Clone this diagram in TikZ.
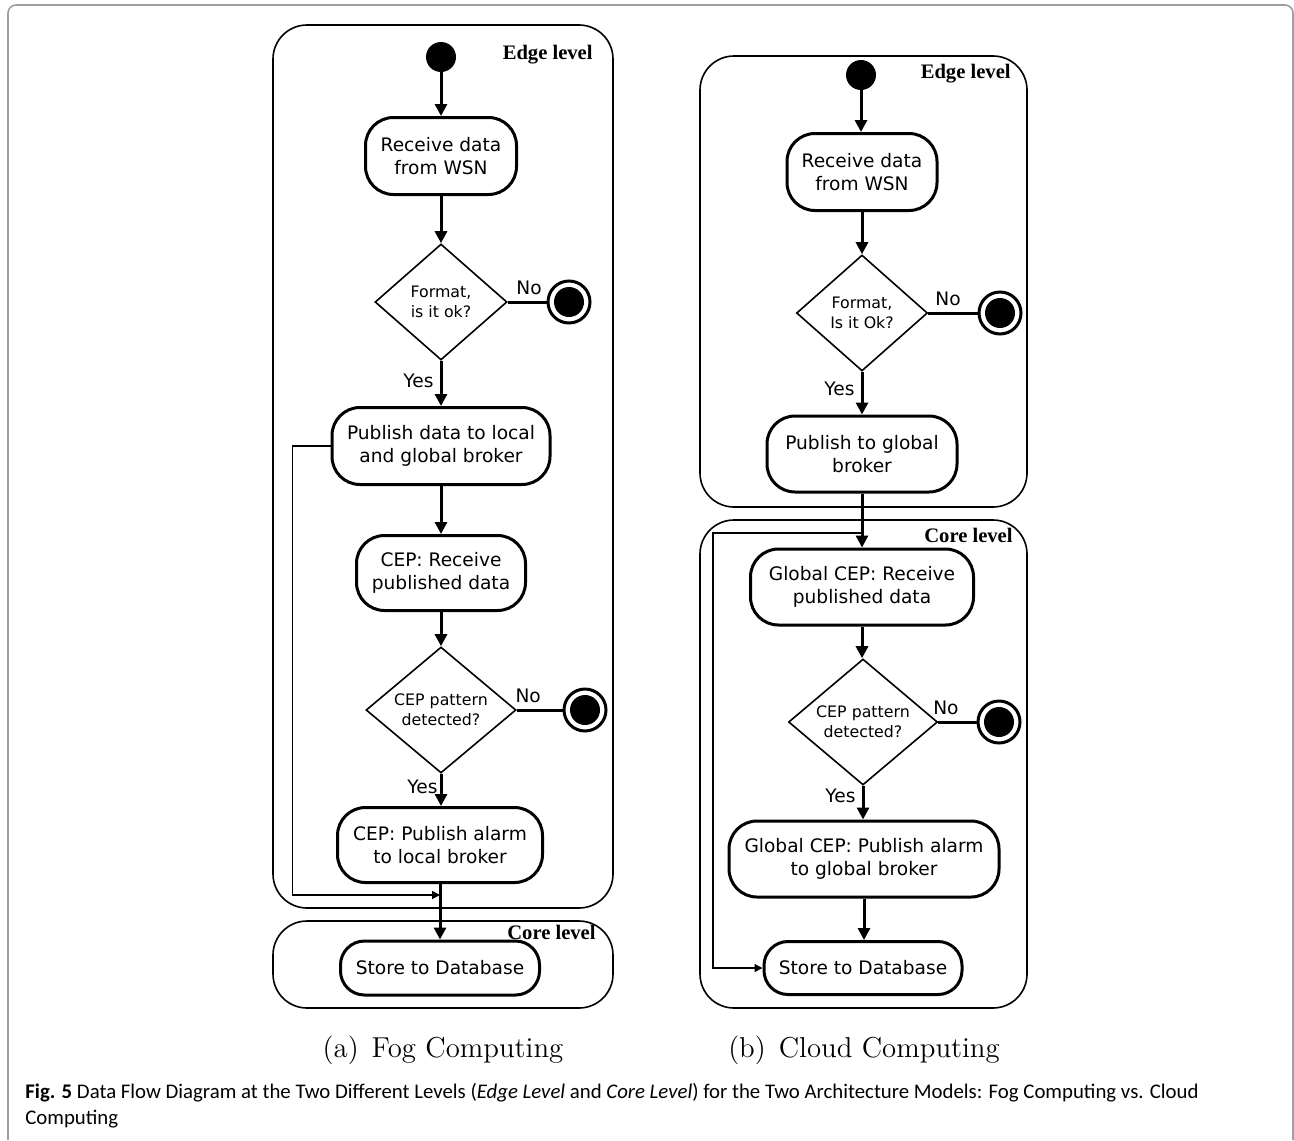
\documentclass[tikz,border=0pt]{standalone}
\usepackage{fontspec}
\usetikzlibrary{shapes.geometric,arrows.meta}
\newfontfamily\dvsans{DejaVu Sans}
\newfontfamily\tmsfont{Liberation Serif}
\newfontfamily\capfont{Carlito}
\begin{document}
\begin{tikzpicture}[x=0.5pt,y=-0.5pt,
  act/.style={draw, line width=1.5pt, rounded corners=14pt, inner sep=0pt, align=center,
    font=\dvsans\fontsize{9.3}{11.8}\selectfont},
  dec/.style={diamond, draw, line width=0.8pt, inner sep=0pt, align=center,
    font=\dvsans\fontsize{7.9}{10}\selectfont},
  startnode/.style={circle, fill=black, minimum size=15pt, inner sep=0pt},
  stopnode/.style={circle, draw, line width=1.5pt, minimum size=21pt, inner sep=0pt,
    path picture={\fill (path picture bounding box.center) circle (7.5pt);}},
  flow/.style={line width=1.5pt, -{Triangle[length=6pt,width=6pt]}},
  plainflow/.style={line width=1.5pt},
  backline/.style={line width=0.7pt, -{Triangle[length=4pt,width=4pt]}},
  levelbox/.style={draw, line width=0.8pt, rounded corners=17pt},
  lvl/.style={font=\tmsfont\bfseries\fontsize{10.3}{12}\selectfont, inner sep=0pt},
  lab/.style={font=\dvsans\fontsize{9.3}{11}\selectfont, inner sep=3pt},
  subcap/.style={font=\fontsize{14.4}{17}\selectfont}
]
\useasboundingbox (0,0) rectangle (1294,1140);

% page frame
\draw[gray!75, line width=0.8pt, rounded corners=4pt] (8,1140) -- (8,5) -- (1293,5) -- (1293,1140);

% ---------------- (a) Fog Computing ----------------
\draw[levelbox] (273,25) rectangle (613,908);
\draw[levelbox] (273,921) rectangle (613,1008);
\node[lvl, anchor=east] (la1) at (593,55) {Edge level};
\node[lvl, anchor=east] (la2) at (596,932) {Core level};

\node[startnode] (s1) at (441,57) {};
\node[act, minimum width=75.5pt, minimum height=38.5pt] (a1) at (441,156) {Receive data\\from WSN};
\node[dec, minimum width=66pt, minimum height=58pt] (d1) at (441,302) {Format,\\is it ok?};
\node[stopnode] (e1) at (569,302) {};
\node[act, minimum width=109pt, minimum height=38.5pt] (a2) at (441,446) {Publish data to local\\and global broker};
\node[act, minimum width=84.5pt, minimum height=37.5pt] (a3) at (441,573) {CEP: Receive\\published data};
\node[dec, minimum width=75pt, minimum height=63pt] (d2) at (441,710) {CEP pattern\\detected?};
\node[stopnode] (e2) at (585,710) {};
\node[act, minimum width=102.5pt, minimum height=37.5pt] (a4) at (440,845) {CEP: Publish alarm\\to local broker};
\node[act, rounded corners=12pt, minimum width=99.5pt, minimum height=27pt] (a5) at (440,968) {Store to Database};
\coordinate (j1) at (440,895);

\draw[flow] (s1) -- (a1);
\draw[flow] (a1) -- (d1);
\draw[plainflow] (d1) -- node[lab, above, pos=0.55] {No} (e1);
\draw[flow] (d1) -- node[lab, left, pos=0.45] {Yes} (a2);
\draw[flow] (a2) -- (a3);
\draw[flow] (a3) -- (d2);
\draw[plainflow] (d2) -- node[lab, above, pos=0.25] {No} (e2);
\draw[flow] (d2.south) -- node[lab, left, pos=0.4, inner sep=1pt] {Yes} (d2.south |- a4.north);
\draw[flow] (a4) -- (a5);
\draw[backline] (a2.west) -- ++(-38,0) |- (j1);

% ---------------- (b) Cloud Computing ----------------
\draw[levelbox] (700,56) rectangle (1027,507);
\draw[levelbox] (700,520) rectangle (1027,1008);
\node[lvl, anchor=east] (lb1) at (1011,74) {Edge level};
\node[lvl, anchor=east] (lb2) at (1013,535) {Core level};

\node[startnode] (s2) at (861,75) {};
\node[act, minimum width=75pt, minimum height=38.5pt] (b1) at (862,172) {Receive data\\from WSN};
\node[dec, minimum width=65.5pt, minimum height=58pt] (d3) at (862,313) {Format,\\Is it Ok?};
\node[stopnode] (e3) at (1000,313) {};
\node[act, minimum width=95pt, minimum height=38pt] (b2) at (862,454) {Publish to global\\broker};
\node[act, minimum width=111.5pt, minimum height=38pt] (b3) at (862,587) {Global CEP: Receive\\published data};
\node[dec, minimum width=74.5pt, minimum height=63pt] (d4) at (863,722) {CEP pattern\\detected?};
\node[stopnode] (e4) at (999,722) {};
\node[act, minimum width=135pt, minimum height=38pt] (b4) at (864,859) {Global CEP: Publish alarm\\to global broker};
\node[act, rounded corners=12pt, minimum width=99pt, minimum height=26.5pt] (b5) at (863,968) {Store to Database};
\coordinate (j2) at (862,533);

\draw[flow] (s2) -- (s2 |- b1.north);
\draw[flow] (b1) -- (b1 |- d3.north);
\draw[plainflow] (d3) -- node[lab, above, pos=0.4] {No} (e3);
\draw[flow] (d3) -- node[lab, left, pos=0.4] {Yes} (d3 |- b2.north);
\draw[flow] (b2) -- (b3);
\draw[flow] (b3) -- (b3 |- d4.north);
\draw[plainflow] (d4) -- node[lab, above, pos=0.2] {No} (e4);
\draw[flow] (d4) -- node[lab, left, pos=0.3] {Yes} (d4 |- b4.north);
\draw[flow] (b4) -- (b4 |- b5.north);
\draw[backline] (j2) -- ++(-149,0) |- (b5.west);

% ---------------- captions ----------------
\node[subcap] (ca) at (443,1050) {(a)\hspace{0.45em}Fog Computing};
\node[subcap] (cb) at (864,1050) {(b)\hspace{0.45em}Cloud Computing};
\node[anchor=base west, align=left, inner sep=0pt,
  font=\capfont\fontsize{10.4}{13}\selectfont] (cap) at (25,1124)
  {\textbf{Fig. 5} Data Flow Diagram at the Two Different Levels (\textit{Edge Level} and \textit{Core Level}) for the Two Architecture Models: Fog Computing vs. Cloud\\Computing};
\end{tikzpicture}
\end{document}
